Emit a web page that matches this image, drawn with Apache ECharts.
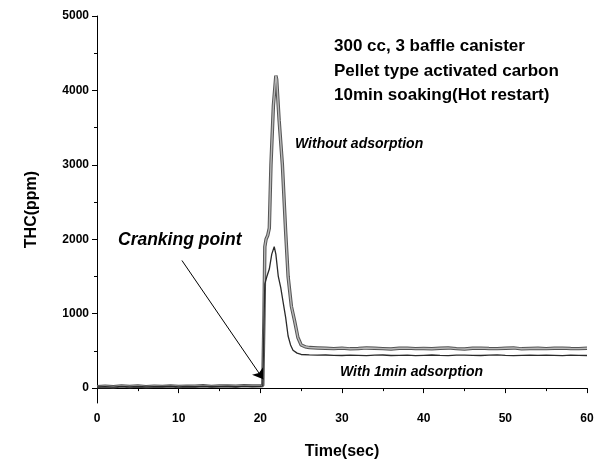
<!DOCTYPE html>
<html>
<head>
<meta charset="utf-8">
<script src="https://cdn.jsdelivr.net/npm/echarts@6/dist/echarts.min.js"></script>
<style>html,body{margin:0;padding:0;background:#fff}#c{width:600px;height:465px}</style>
</head>
<body>
<div id="c"></div>
<script>
// ---- data ----
const timeWithout = [0,1,2,3,4,5,6,7,8,9,10,11,12,13,14,15,16,17,18,19,20,20.3,
  20.45,20.55,20.7,20.9,21.1,21.3,21.6,21.9,22.0,22.3,22.7,23.1,23.4,23.8,24.2,24.6,25.0,25.5,26,27,
  28,29,30,31,32,33,34,35,36,37,38,39,40,41,42,43,44,45,46,47,48,49,50,51,52,53,54,55,56,57,58,59,60];
const valuesWithout = [20,25,18,30,22,28,20,26,24,30,22,27,25,32,24,28,30,26,34,28,30,35,
  1000,1900,2000,2050,2150,3000,3800,4200,4150,3600,3000,2100,1500,1100,900,680,580,555,545,540,
  535,530,538,528,532,540,535,530,525,535,538,530,532,528,535,540,530,526,535,538,532,530,535,540,528,532,536,530,535,538,532,530,535];

const timeWith = [0,1,2,3,4,5,6,7,8,9,10,11,12,13,14,15,16,17,18,19,20,20.3,
  20.45,20.55,20.8,21.1,21.4,21.7,21.9,22.2,22.5,22.8,23.1,23.4,23.7,24.0,24.5,25,26,27,
  28,29,30,31,32,33,34,35,36,37,38,39,40,41,42,43,44,45,46,47,48,49,50,51,52,53,54,55,56,57,58,59,60];
const valuesWith = [15,20,14,24,18,22,16,21,19,25,18,22,20,26,19,23,25,21,28,23,25,30,
  900,1400,1500,1600,1800,1900,1800,1500,1350,1150,950,700,580,510,470,452,446,442,
  445,440,438,444,440,436,442,445,438,440,443,437,441,445,439,436,442,444,440,438,443,446,440,437,441,444,439,442,440,437,443,440,438];

const xTicks = [0,10,20,30,40,50,60];
const yMajorTicks = [0,1000,2000,3000,4000,5000];
const yMinorTicks = [500,1500,2500,3500,4500];
const arrowStart = [10.4, 1715];
const arrowEnd = [20.35, 120];

const pairs = (t, v) => t.map((x, i) => [x, v[i]]);
const FONT = '"Liberation Sans", Arial, sans-serif';

const chart = echarts.init(document.getElementById('c'), null, {renderer: 'canvas'});
chart.setOption({
  animation: false,
  backgroundColor: '#fff',
  grid: {left: 97, right: 13, top: 16, bottom: 60, containLabel: false},
  xAxis: {
    type: 'value', min: 0, max: 60, interval: 10,
    name: 'Time(sec)', nameLocation: 'middle', nameGap: 41,
    nameTextStyle: {fontFamily: FONT, fontWeight: 'bold', fontSize: 16, color: '#000'},
    axisLine: {lineStyle: {color: '#000', width: 1}},
    axisTick: {length: 5, lineStyle: {color: '#000'}},
    minorTick: {show: true, splitNumber: 2, length: 3, lineStyle: {color: '#000'}},
    axisLabel: {fontFamily: FONT, fontWeight: 'bold', fontSize: 12, color: '#000', margin: 10,
      formatter: v => String(v)},
    splitLine: {show: false}
  },
  yAxis: [{
    type: 'value', min: -200, max: 5000,
    name: 'THC(ppm)', nameLocation: 'middle', nameGap: 57,
    nameTextStyle: {fontFamily: FONT, fontWeight: 'bold', fontSize: 16, color: '#000'},
    axisLine: {show: true, lineStyle: {color: '#000', width: 1}},
    axisTick: {show: true, length: 5, customValues: yMajorTicks, lineStyle: {color: '#000'}},
    axisLabel: {fontFamily: FONT, fontWeight: 'bold', fontSize: 12, color: '#000', margin: 8,
      customValues: yMajorTicks, formatter: v => String(v)},
    splitLine: {show: false}
  }, {
    type: 'value', min: -200, max: 5000, position: 'left',
    axisLine: {show: false},
    axisTick: {show: true, length: 3, customValues: yMinorTicks, lineStyle: {color: '#000'}},
    axisLabel: {show: false},
    splitLine: {show: false}
  }],
  series: [
    {type: 'line', name: 'Without adsorption outline', data: pairs(timeWithout, valuesWithout),
     showSymbol: false, lineStyle: {color: '#555', width: 3.4}, z: 2, silent: true},
    {type: 'line', name: 'Without adsorption', data: pairs(timeWithout, valuesWithout),
     showSymbol: false, lineStyle: {color: '#b8b8b8', width: 1.4}, z: 3, silent: true},
    {type: 'line', name: 'With 1min adsorption', data: pairs(timeWith, valuesWith),
     showSymbol: false, lineStyle: {color: '#2a2a2a', width: 1.3}, z: 4, silent: true,
     markLine: {
       silent: true, symbol: ['none', 'arrow'], symbolSize: 10,
       label: {show: false},
       lineStyle: {color: '#000', width: 1, type: 'solid'},
       data: [[{coord: arrowStart}, {coord: arrowEnd}]]
     }}
  ],
  graphic: [
    {type: 'text', left: 334, top: 38, style: {text: '300 cc, 3 baffle canister', font: 'bold 17px ' + FONT, fill: '#000'}},
    {type: 'text', left: 334, top: 63, style: {text: 'Pellet type activated carbon', font: 'bold 17px ' + FONT, fill: '#000'}},
    {type: 'text', left: 334, top: 87, style: {text: '10min soaking(Hot restart)', font: 'bold 17px ' + FONT, fill: '#000'}},
    {type: 'text', left: 295, top: 137, style: {text: 'Without adsorption', font: 'italic bold 14px ' + FONT, fill: '#000'}},
    {type: 'text', left: 340, top: 365, style: {text: 'With 1min adsorption', font: 'italic bold 14px ' + FONT, fill: '#000'}},
    {type: 'text', left: 118, top: 231, style: {text: 'Cranking point', font: 'italic bold 17.5px ' + FONT, fill: '#000'}}
  ]
});
</script>
</body>
</html>
